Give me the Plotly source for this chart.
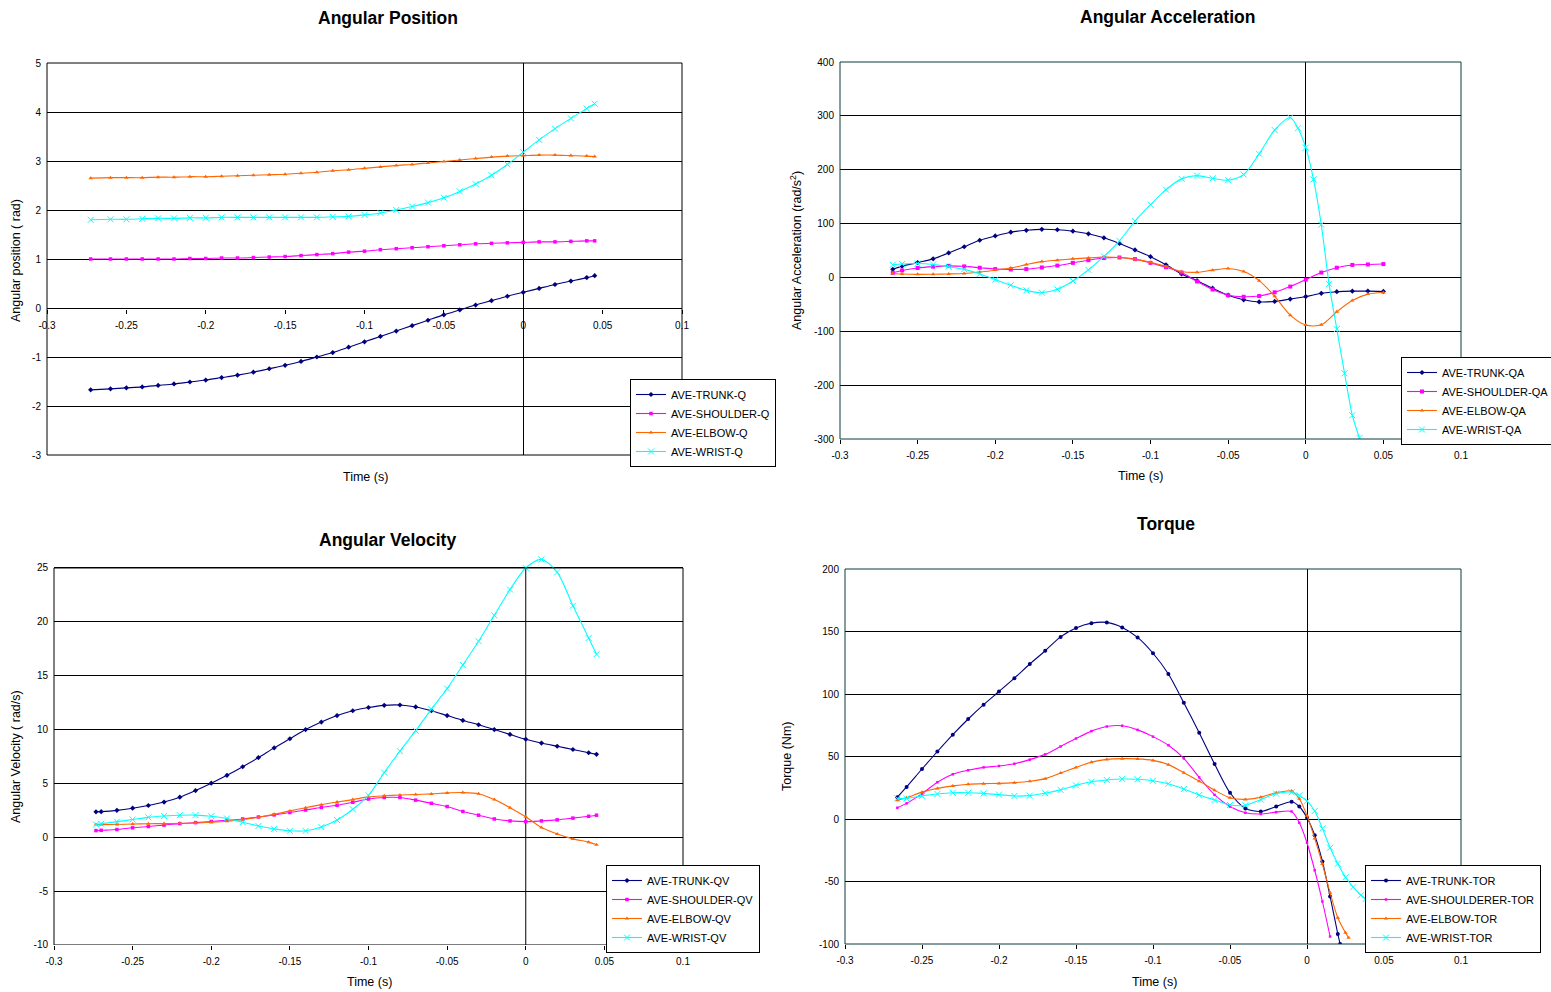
import plotly.graph_objects as go

W, H = 1551, 992
FONT = "Liberation Sans, Arial, sans-serif"

# ---------------- axis ticks ----------------
X_TICKS = [-0.3, -0.25, -0.2, -0.15, -0.1, -0.05, 0, 0.05, 0.1]
X_TICK_TEXT = ["-0.3", "-0.25", "-0.2", "-0.15", "-0.1", "-0.05", "0", "0.05", "0.1"]
POS_Y_TICKS = [-3, -2, -1, 0, 1, 2, 3, 4, 5]
ACC_Y_TICKS = [-300, -200, -100, 0, 100, 200, 300, 400]
VEL_Y_TICKS = [-10, -5, 0, 5, 10, 15, 20, 25]
TOR_Y_TICKS = [-100, -50, 0, 50, 100, 150, 200]

# ---------------- Angular Position ----------------
T_POS = [-0.2725, -0.26, -0.25, -0.24, -0.23, -0.22, -0.21, -0.20,
         -0.19, -0.18, -0.17, -0.16, -0.15, -0.14, -0.13, -0.12, -0.11, -0.10,
         -0.09, -0.08, -0.07, -0.06, -0.05, -0.04, -0.03, -0.02, -0.01, 0.0,
         0.01, 0.02, 0.03, 0.04, 0.045]
TRUNK_Q = [-1.67, -1.65, -1.63, -1.61, -1.58, -1.55, -1.51, -1.47,
           -1.42, -1.37, -1.31, -1.24, -1.17, -1.09, -1.00, -0.91, -0.80, -0.69,
           -0.58, -0.47, -0.36, -0.25, -0.14, -0.04, 0.06, 0.15, 0.24, 0.32,
           0.40, 0.48, 0.55, 0.62, 0.66]
SHOULDER_Q = [1.00, 1.00, 1.00, 1.00, 1.00, 1.00, 1.01, 1.01,
              1.02, 1.02, 1.03, 1.04, 1.05, 1.07, 1.09, 1.11, 1.14, 1.16,
              1.19, 1.21, 1.23, 1.25, 1.27, 1.29, 1.31, 1.32, 1.33, 1.34,
              1.35, 1.35, 1.36, 1.37, 1.37]
ELBOW_Q = [2.65, 2.66, 2.66, 2.66, 2.67, 2.67, 2.68, 2.68,
           2.69, 2.70, 2.71, 2.72, 2.73, 2.75, 2.77, 2.80, 2.82, 2.85,
           2.88, 2.91, 2.93, 2.96, 2.99, 3.02, 3.05, 3.08, 3.10, 3.11,
           3.12, 3.12, 3.11, 3.10, 3.09]
WRIST_Q = [1.80, 1.81, 1.81, 1.82, 1.83, 1.83, 1.84, 1.84,
           1.85, 1.85, 1.85, 1.85, 1.85, 1.85, 1.85, 1.86, 1.87, 1.90,
           1.94, 2.00, 2.07, 2.15, 2.25, 2.38, 2.53, 2.71, 2.93, 3.18,
           3.43, 3.66, 3.87, 4.07, 4.17]

# ---------------- Angular Acceleration ----------------
T_ACC = [-0.266, -0.26, -0.25, -0.24, -0.23, -0.22, -0.21, -0.20,
         -0.19, -0.18, -0.17, -0.16, -0.15, -0.14, -0.13, -0.12, -0.11, -0.10,
         -0.09, -0.08, -0.07, -0.06, -0.05, -0.04, -0.03, -0.02, -0.01, 0.0,
         0.01, 0.02, 0.03, 0.04, 0.05]
TRUNK_QA = [15, 21, 27.5, 34.5, 45.5, 57, 69, 77,
            84, 87.5, 89.3, 88.5, 85.8, 81, 73.5, 63, 51, 38.5,
            23.5, 6.5, -6, -20, -33, -41.5, -45.5, -44.5, -40.2, -35.5,
            -29.5, -26.5, -25.5, -25.4, -26]
SHOULDER_QA = [8.5, 13, 17.5, 20, 21.5, 20.5, 18, 15.5,
               14.8, 15.5, 18.5, 22, 27, 32, 36, 37, 34, 27,
               19, 9, -7.5, -22.5, -33, -35.9, -34.5, -27.6, -17, -4.2,
               9, 18, 23.2, 24.1, 24.8]
ELBOW_QA = [7.4, 6.5, 5.7, 6, 6.5, 7.4, 10, 13.6,
            17.5, 23.8, 29.4, 32.1, 34.5, 36.3, 37.7, 37, 33.5, 28,
            20.5, 11, 9.5, 13.5, 16.5, 11, -6, -35, -70, -88.5,
            -88, -63.7, -43, -31, -28]
T_ACC_WRIST = [-0.266, -0.26, -0.25, -0.24, -0.23, -0.22, -0.21, -0.20,
               -0.19, -0.18, -0.17, -0.16, -0.15, -0.14, -0.13, -0.12, -0.11, -0.10,
               -0.09, -0.08, -0.07, -0.06, -0.05, -0.04, -0.03, -0.02, -0.01,
               -0.005, 0.0, 0.005, 0.01, 0.015, 0.02, 0.025, 0.03, 0.0346]
WRIST_QA = [23.5, 25, 25.8, 24, 20, 15, 6.5, -4,
            -14.5, -24, -28.3, -22, -6.5, 14, 39, 68, 104.5, 135,
            163, 183, 189, 184, 180.5, 191, 229.5, 273.7, 297,
            277, 241, 182, 98, -12, -96, -178, -256, -298]

# ---------------- Angular Velocity ----------------
T_VEL = [-0.2733, -0.27, -0.26, -0.25, -0.24, -0.23, -0.22, -0.21, -0.20,
         -0.19, -0.18, -0.17, -0.16, -0.15, -0.14, -0.13, -0.12, -0.11, -0.10,
         -0.09, -0.08, -0.07, -0.06, -0.05, -0.04, -0.03, -0.02, -0.01, 0.0,
         0.01, 0.02, 0.03, 0.04, 0.045]
TRUNK_QV = [2.36, 2.38, 2.5, 2.7, 2.95, 3.27, 3.72, 4.34, 5.02,
            5.75, 6.55, 7.4, 8.3, 9.15, 10.0, 10.7, 11.3, 11.75, 12.05,
            12.25, 12.28, 12.1, 11.75, 11.3, 10.85, 10.45, 10.0, 9.55, 9.1,
            8.75, 8.45, 8.15, 7.85, 7.7]
SHOULDER_QV = [0.62, 0.65, 0.72, 0.88, 1.0, 1.13, 1.27, 1.36, 1.47,
               1.58, 1.70, 1.88, 2.08, 2.3, 2.53, 2.77, 2.97, 3.25, 3.55,
               3.7, 3.7, 3.45, 3.15, 2.85, 2.4, 2.05, 1.7, 1.52, 1.45,
               1.52, 1.62, 1.78, 1.95, 2.05]
ELBOW_QV = [1.18, 1.18, 1.19, 1.23, 1.26, 1.27, 1.3, 1.33, 1.4,
            1.49, 1.64, 1.86, 2.13, 2.45, 2.75, 3.03, 3.27, 3.5, 3.75,
            3.85, 3.92, 3.97, 4.03, 4.12, 4.15, 4.05, 3.5, 2.75, 1.9,
            0.9, 0.3, -0.15, -0.45, -0.7]
WRIST_QV = [1.18, 1.25, 1.45, 1.65, 1.85, 1.97, 2.05, 2.06, 1.96,
            1.75, 1.4, 1.05, 0.78, 0.6, 0.6, 0.95, 1.6, 2.6, 3.9,
            6.0, 8.0, 9.9, 11.9, 13.8, 16.0, 18.2, 20.6, 23.0, 25.0,
            25.8, 24.6, 21.5, 18.5, 17.0]

# ---------------- Torque ----------------
T_TOR = [-0.266, -0.26, -0.25, -0.24, -0.23, -0.22, -0.21, -0.20,
         -0.19, -0.18, -0.17, -0.16, -0.15, -0.14, -0.13, -0.12, -0.11, -0.10,
         -0.09, -0.08, -0.07, -0.06, -0.05, -0.04, -0.03, -0.02, -0.01,
         -0.005, 0.0, 0.005, 0.01, 0.015]
TRUNK_TOR = [17.5, 25.7, 40, 54, 67.5, 80, 91.5, 102,
             112.7, 124, 134.6, 145.7, 152.8, 156.7, 157.3, 153.3, 145.3, 132.6,
             116, 93, 69, 44, 21, 8.5, 6, 10, 13.8,
             10, 1, -13, -34, -62]
T_TOR_TRUNK_END = [0.02, 0.0215]
TRUNK_TOR_END = [-92, -100]
SHOULDER_TOR = [9, 12.5, 20.3, 29.4, 35.8, 39, 41.3, 42.4,
                44.2, 47.5, 51.7, 58, 64.4, 70.3, 74, 74.6, 71.3, 65.9,
                59, 48.5, 33.3, 19.3, 10, 5, 4, 5.5, 6,
                -3, -19, -41, -66, -94]
ELBOW_TOR = [15, 17, 21.5, 24.5, 26.5, 27.8, 28.3, 28.5,
             29.1, 30.2, 32.3, 36.8, 41.3, 45.5, 47.7, 48.3, 48.1, 46.9,
             43.5, 37, 30.3, 23, 17, 15.7, 17.5, 21, 22.4,
             16.2, 2.7, -15.5, -36, -59]
T_TOR_ELBOW_END = [0.02, 0.025, 0.027]
ELBOW_TOR_END = [-79, -91, -95]
WRIST_TOR = [16.5, 16.5, 18.5, 20, 21, 21, 20.5, 19.5,
             18.4, 18.7, 20.6, 23.3, 26.9, 29.8, 31.2, 32, 31.8, 30.6,
             28.2, 24, 19.2, 15.2, 11.2, 11, 15.5, 20.3, 21.4,
             18.9, 14.3, 6.4, -7.5, -23]
T_TOR_WRIST_END = [0.02, 0.025, 0.03, 0.035, 0.038]
WRIST_TOR_END = [-35.8, -46.6, -54.5, -61, -64]

NAVY, MAGENTA, ORANGE, CYAN = "#000080", "#FF00FF", "#FF6600", "#00FFFF"


def fx(px):
    return px / W


def fy(py):
    return 1 - py / H


fig = go.Figure()


def add(x, y, name, color, symbol, size, xa, ya, legend, mline=0):
    marker = dict(color=color, symbol=symbol, size=size,
                  line=dict(width=mline, color=color))
    fig.add_trace(go.Scatter(
        x=x, y=y, name=name, mode="lines+markers",
        line=dict(color=color, width=1.1, shape="spline", smoothing=0.8),
        marker=marker, xaxis=xa, yaxis=ya, legend=legend))


# Panel 1
add(T_POS, TRUNK_Q, "AVE-TRUNK-Q", NAVY, "diamond", 4, "x", "y", "legend")
add(T_POS, SHOULDER_Q, "AVE-SHOULDER-Q", MAGENTA, "square", 3.5, "x", "y", "legend")
add(T_POS, ELBOW_Q, "AVE-ELBOW-Q", ORANGE, "triangle-up", 4, "x", "y", "legend")
add(T_POS, WRIST_Q, "AVE-WRIST-Q", CYAN, "x-thin", 6, "x", "y", "legend", 1)

# Panel 2
add(T_ACC, TRUNK_QA, "AVE-TRUNK-QA", NAVY, "diamond", 4, "x2", "y2", "legend2")
add(T_ACC, SHOULDER_QA, "AVE-SHOULDER-QA", MAGENTA, "square", 4, "x2", "y2", "legend2")
add(T_ACC, ELBOW_QA, "AVE-ELBOW-QA", ORANGE, "triangle-up", 4, "x2", "y2", "legend2")
add(T_ACC_WRIST, WRIST_QA, "AVE-WRIST-QA", CYAN, "x-thin", 6, "x2", "y2", "legend2", 1)

# Panel 3
add(T_VEL, TRUNK_QV, "AVE-TRUNK-QV", NAVY, "diamond", 4, "x3", "y3", "legend3")
add(T_VEL, SHOULDER_QV, "AVE-SHOULDER-QV", MAGENTA, "square", 3.5, "x3", "y3", "legend3")
add(T_VEL, ELBOW_QV, "AVE-ELBOW-QV", ORANGE, "triangle-up", 4, "x3", "y3", "legend3")
add(T_VEL, WRIST_QV, "AVE-WRIST-QV", CYAN, "x-thin", 6, "x3", "y3", "legend3", 1)

# Panel 4
add(T_TOR + T_TOR_TRUNK_END, TRUNK_TOR + TRUNK_TOR_END, "AVE-TRUNK-TOR", NAVY,
    "circle", 4, "x4", "y4", "legend4")
add(T_TOR, SHOULDER_TOR, "AVE-SHOULDERER-TOR", MAGENTA, "square", 2.5, "x4", "y4", "legend4")
add(T_TOR + T_TOR_ELBOW_END, ELBOW_TOR + ELBOW_TOR_END, "AVE-ELBOW-TOR", ORANGE,
    "triangle-up", 4, "x4", "y4", "legend4")
add(T_TOR + T_TOR_WRIST_END, WRIST_TOR + WRIST_TOR_END, "AVE-WRIST-TOR", CYAN,
    "x-thin", 6, "x4", "y4", "legend4", 1)

tickfont = dict(family=FONT, size=10, color="black")


def xaxis(px0, px1, anchor, position=None, zeroline=True):
    d = dict(domain=[fx(px0), fx(px1)], range=[-0.3, 0.1], tickvals=X_TICKS,
             ticktext=X_TICK_TEXT, ticks="outside", ticklen=4, tickcolor="black",
             tickwidth=1, showgrid=False, zeroline=zeroline, zerolinecolor="black",
             zerolinewidth=1, showline=False, tickfont=tickfont, anchor=anchor,
             ticklabelstandoff=3)
    if position is not None:
        d["position"] = position
    return d


def yaxis(py0, py1, rng, ticks, anchor):
    return dict(domain=[fy(py1), fy(py0)], range=rng, tickvals=ticks,
                ticktext=[str(t) for t in ticks], ticks="", showgrid=True,
                gridcolor="black", gridwidth=1, zeroline=False, showline=False,
                tickfont=tickfont, anchor=anchor, ticklabelstandoff=5)


def legend(px, py):
    return dict(x=fx(px), y=fy(py), xanchor="left", yanchor="top",
                bgcolor="white", bordercolor="black", borderwidth=1,
                font=dict(family=FONT, size=11, color="black"),
                tracegroupgap=0, itemwidth=30)


# velocity panel: 25 sits at y=568px, -10 at 945px; the axis range reaches a
# little above 25 so the wrist peak can rise above the frame, as in the original
VEL_TOP = 26.6
vel_px_per_unit = (945 - 568) / 35.0
vel_domain_top_px = 568 - (VEL_TOP - 25) * vel_px_per_unit

fig.update_layout(
    width=W, height=H,
    margin=dict(l=0, r=0, t=0, b=0, autoexpand=False),
    paper_bgcolor="white", plot_bgcolor="white",
    font=dict(family=FONT, color="black"),
    xaxis=xaxis(47, 682, "free", fy(308.5)),
    yaxis=yaxis(63, 455, [-3, 5], POS_Y_TICKS, "x"),
    xaxis2=xaxis(840, 1461, "y2"),
    yaxis2=yaxis(62, 439, [-300, 400], ACC_Y_TICKS, "x2"),
    xaxis3=xaxis(54, 683, "y3", zeroline=False),
    yaxis3=yaxis(vel_domain_top_px, 945, [-10, VEL_TOP], VEL_Y_TICKS, "x3"),
    xaxis4=xaxis(845, 1461, "y4"),
    yaxis4=yaxis(569, 944, [-100, 200], TOR_Y_TICKS, "x4"),
    legend=legend(630, 379),
    legend2=legend(1401, 357),
    legend3=legend(606, 865),
    legend4=legend(1365, 865),
    showlegend=True,
)

# plot-area frames
frame_colors = {"": "black", "2": "#0b3b3b", "4": "#0b3b3b"}
for k, c in frame_colors.items():
    fig.add_shape(type="rect", xref=f"x{k} domain", yref=f"y{k} domain",
                  x0=0, x1=1, y0=0, y1=1, line=dict(color=c, width=1),
                  fillcolor="rgba(0,0,0,0)", layer="above")
# velocity frame spans -10 .. 25 only, plus its vertical axis line at t = 0
fig.add_shape(type="rect", xref="x3 domain", yref="y3", x0=0, x1=1,
              y0=VEL_Y_TICKS[0], y1=VEL_Y_TICKS[-1], line=dict(color="black", width=1),
              fillcolor="rgba(0,0,0,0)", layer="above")
fig.add_shape(type="line", xref="x3", yref="y3", x0=0, x1=0,
              y0=VEL_Y_TICKS[0], y1=VEL_Y_TICKS[-1], line=dict(color="black", width=1),
              layer="below")

# titles
ann = []
for text, px, py in [("Angular Position", 388, 18), ("Angular Acceleration", 1167, 17),
                     ("Angular Velocity", 387, 540), ("Torque", 1166, 524)]:
    ann.append(dict(text=f"<b>{text}</b>", x=fx(px), y=fy(py), xref="paper", yref="paper",
                    showarrow=False, xanchor="center", yanchor="middle",
                    font=dict(family=FONT, size=17.5, color="black")))
for px, py in [(365, 477), (1140, 476), (369, 982), (1154, 982)]:
    ann.append(dict(text="Time (s)", x=fx(px), y=fy(py), xref="paper", yref="paper",
                    showarrow=False, xanchor="center", yanchor="middle",
                    font=dict(family=FONT, size=12.5, color="black")))
for text, px, py in [("Angular position ( rad)", 16, 261),
                     ("Angular Acceleration (rad/s<sup>2</sup>)", 796, 251),
                     ("Angular Velocity ( rad/s)", 16, 757),
                     ("Torque (Nm)", 787, 757)]:
    ann.append(dict(text=text, x=fx(px), y=fy(py), xref="paper", yref="paper",
                    showarrow=False, xanchor="center", yanchor="middle", textangle=-90,
                    font=dict(family=FONT, size=12.5, color="black")))
fig.update_layout(annotations=ann)

fig.write_html("out.html", config={"displayModeBar": False},
               post_script="document.body.style.margin='0';")
